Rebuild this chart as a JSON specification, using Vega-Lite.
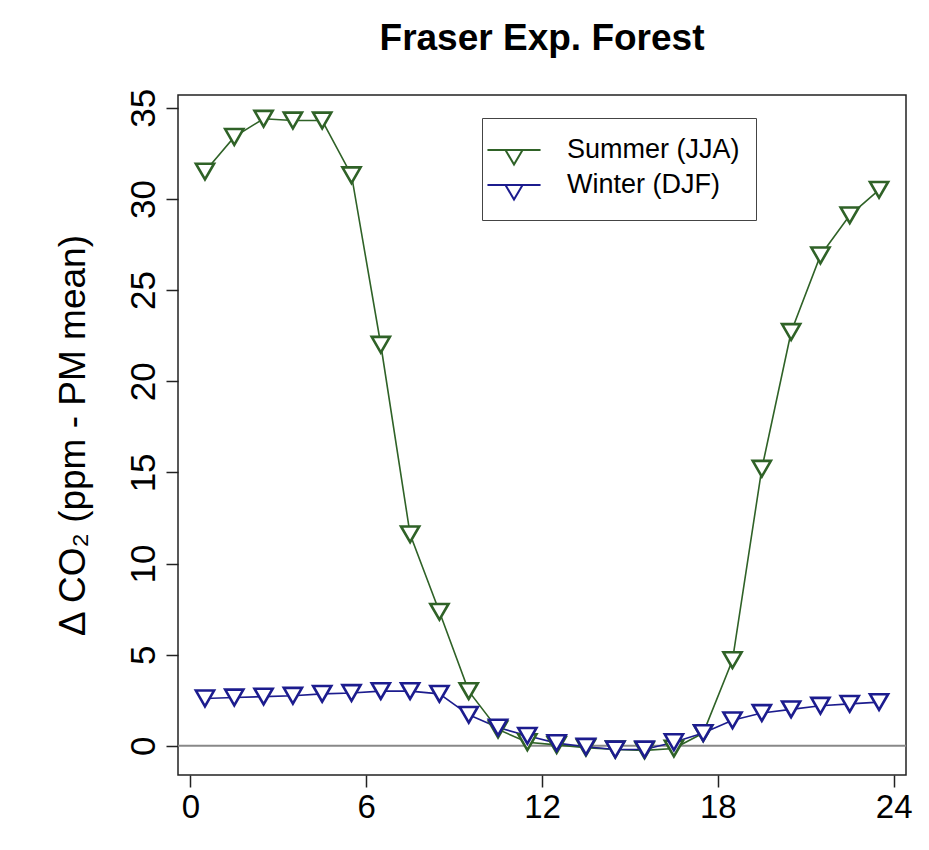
{
  "$schema": "https://vega.github.io/schema/vega-lite/v6.json",
  "width": 728,
  "height": 680,
  "autosize": "none",
  "padding": {"left": 178, "top": 95, "right": 23, "bottom": 75},
  "background": "white",
  "title": {
    "text": "Fraser Exp. Forest",
    "font": "Liberation Sans",
    "fontSize": 37,
    "fontWeight": "bold",
    "color": "black",
    "anchor": "middle",
    "offset": 30
  },
  "config": {
    "font": "Liberation Sans",
    "view": {"stroke": "#222", "strokeWidth": 1.5},
    "axis": {
      "grid": false,
      "domain": false,
      "tickColor": "#222",
      "tickWidth": 1.5,
      "tickSize": 12,
      "labelFont": "Liberation Sans",
      "labelColor": "black",
      "titleFont": "Liberation Sans",
      "titleFontWeight": "normal",
      "titleColor": "black"
    }
  },
  "data": {
    "values": [
      {"hour": 0.5, "season": "Summer (JJA)", "co2": 31.5},
      {"hour": 1.5, "season": "Summer (JJA)", "co2": 33.4},
      {"hour": 2.5, "season": "Summer (JJA)", "co2": 34.4},
      {"hour": 3.5, "season": "Summer (JJA)", "co2": 34.3},
      {"hour": 4.5, "season": "Summer (JJA)", "co2": 34.3},
      {"hour": 5.5, "season": "Summer (JJA)", "co2": 31.3},
      {"hour": 6.5, "season": "Summer (JJA)", "co2": 22.0},
      {"hour": 7.5, "season": "Summer (JJA)", "co2": 11.6},
      {"hour": 8.5, "season": "Summer (JJA)", "co2": 7.35},
      {"hour": 9.5, "season": "Summer (JJA)", "co2": 3.0},
      {"hour": 10.5, "season": "Summer (JJA)", "co2": 0.9},
      {"hour": 11.5, "season": "Summer (JJA)", "co2": 0.2},
      {"hour": 12.5, "season": "Summer (JJA)", "co2": 0.05},
      {"hour": 13.5, "season": "Summer (JJA)", "co2": -0.1},
      {"hour": 14.5, "season": "Summer (JJA)", "co2": -0.2},
      {"hour": 15.5, "season": "Summer (JJA)", "co2": -0.25},
      {"hour": 16.5, "season": "Summer (JJA)", "co2": -0.15},
      {"hour": 17.5, "season": "Summer (JJA)", "co2": 0.7},
      {"hour": 18.5, "season": "Summer (JJA)", "co2": 4.7},
      {"hour": 19.5, "season": "Summer (JJA)", "co2": 15.2},
      {"hour": 20.5, "season": "Summer (JJA)", "co2": 22.7},
      {"hour": 21.5, "season": "Summer (JJA)", "co2": 26.9},
      {"hour": 22.5, "season": "Summer (JJA)", "co2": 29.1},
      {"hour": 23.5, "season": "Summer (JJA)", "co2": 30.5},
      {"hour": 0.5, "season": "Winter (DJF)", "co2": 2.6},
      {"hour": 1.5, "season": "Winter (DJF)", "co2": 2.65},
      {"hour": 2.5, "season": "Winter (DJF)", "co2": 2.7},
      {"hour": 3.5, "season": "Winter (DJF)", "co2": 2.75},
      {"hour": 4.5, "season": "Winter (DJF)", "co2": 2.85},
      {"hour": 5.5, "season": "Winter (DJF)", "co2": 2.9},
      {"hour": 6.5, "season": "Winter (DJF)", "co2": 3.0},
      {"hour": 7.5, "season": "Winter (DJF)", "co2": 3.0},
      {"hour": 8.5, "season": "Winter (DJF)", "co2": 2.85},
      {"hour": 9.5, "season": "Winter (DJF)", "co2": 1.7},
      {"hour": 10.5, "season": "Winter (DJF)", "co2": 1.0},
      {"hour": 11.5, "season": "Winter (DJF)", "co2": 0.55},
      {"hour": 12.5, "season": "Winter (DJF)", "co2": 0.15},
      {"hour": 13.5, "season": "Winter (DJF)", "co2": -0.05},
      {"hour": 14.5, "season": "Winter (DJF)", "co2": -0.2},
      {"hour": 15.5, "season": "Winter (DJF)", "co2": -0.2},
      {"hour": 16.5, "season": "Winter (DJF)", "co2": 0.2},
      {"hour": 17.5, "season": "Winter (DJF)", "co2": 0.7},
      {"hour": 18.5, "season": "Winter (DJF)", "co2": 1.4},
      {"hour": 19.5, "season": "Winter (DJF)", "co2": 1.8},
      {"hour": 20.5, "season": "Winter (DJF)", "co2": 2.0},
      {"hour": 21.5, "season": "Winter (DJF)", "co2": 2.2},
      {"hour": 22.5, "season": "Winter (DJF)", "co2": 2.3},
      {"hour": 23.5, "season": "Winter (DJF)", "co2": 2.4}
    ]
  },
  "layer": [
    {
      "data": {"values": [{"zero": 0}]},
      "mark": {"type": "rule", "color": "#888", "strokeWidth": 2},
      "encoding": {"y": {"field": "zero", "type": "quantitative"}}
    },
    {
      "encoding": {
        "x": {
          "field": "hour",
          "type": "quantitative",
          "scale": {"domain": [-0.42, 24.42], "nice": false, "zero": false},
          "axis": {"values": [0, 6, 12, 18, 24], "title": null, "labelFontSize": 33, "labelPadding": 4, "labelFlush": false}
        },
        "y": {
          "field": "co2",
          "type": "quantitative",
          "scale": {"domain": [-1.6, 35.7], "nice": false, "zero": false},
          "axis": {
            "values": [0, 5, 10, 15, 20, 25, 30, 35],
            "title": "Δ CO₂ (ppm - PM mean)",
            "titleFontSize": 37,
            "titlePadding": 34,
            "labelFontSize": 35,
            "labelAngle": -90,
            "labelAlign": "center",
            "labelBaseline": "bottom",
            "labelPadding": 5,
            "labelFlush": false
          }
        },
        "color": {
          "field": "season",
          "type": "nominal",
          "scale": {"domain": ["Summer (JJA)", "Winter (DJF)"], "range": ["#2f6227", "#1c1c8e"]},
          "legend": {
            "title": null,
            "orient": "none",
            "legendX": 304,
            "legendY": 23,
            "direction": "vertical",
            "strokeColor": "#444",
            "fillColor": "white",
            "padding": 16,
            "labelFontSize": 27,
            "labelLimit": 400,
            "labelFont": "Liberation Sans",
            "labelColor": "black",
            "labelOffset": 37,
            "rowPadding": 0,
            "symbolType": "M-1.77,0L1.77,0M-0.57,0L0,0.97L0.57,0Z",
            "symbolSize": 900,
            "symbolFillColor": "white",
            "symbolStrokeWidth": 2,
            "symbolOpacity": 1
          }
        }
      },
      "layer": [
        {"mark": {"type": "line", "strokeWidth": 1.6}},
        {"mark": {"type": "point", "shape": "triangle-down", "size": 330, "filled": false, "fill": "white", "fillOpacity": 1, "strokeWidth": 2.6, "opacity": 1}}
      ]
    }
  ]
}
